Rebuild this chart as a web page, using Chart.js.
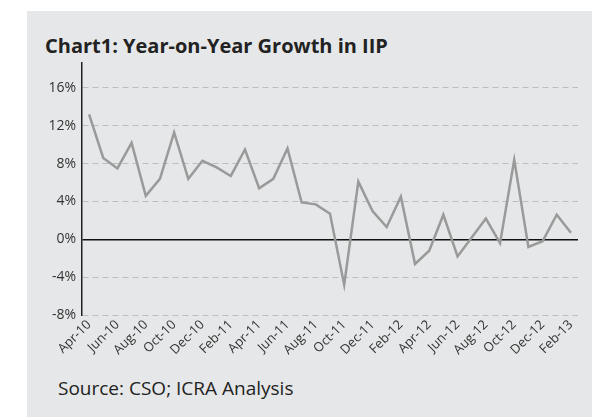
<!DOCTYPE html>
<html>
<head>
<meta charset="utf-8">
<script src="https://cdn.jsdelivr.net/npm/chart.js@4"></script>
<style>
  html, body { margin: 0; padding: 0; background: #fff; }
  #panel {
    position: absolute; left: 27px; top: 11px; width: 565px; height: 406px;
    background: #e6e7e8; font-family: "Open Sans", sans-serif; color: #222;
  }
  #title {
    position: absolute; left: 18px; top: 21px; font-size: 20px; font-weight: 700;
    white-space: nowrap;
  }
  #source {
    position: absolute; left: 31px; top: 364px; font-size: 19px; white-space: nowrap;
  }
  #wrap { position: absolute; left: 0; top: 37px; width: 565px; height: 312px; }
</style>
</head>
<body>
<div id="panel">
  <div id="title">Chart1: Year-on-Year Growth in IIP</div>
  <div id="wrap"><canvas id="iipChart"></canvas></div>
  <div id="source">Source: CSO; ICRA Analysis</div>
</div>
<script>
// Months from Apr-10 to Feb-13
const months = [
  'Apr-10', 'May-10', 'Jun-10', 'Jul-10', 'Aug-10', 'Sep-10', 'Oct-10', 'Nov-10', 'Dec-10',
  'Jan-11', 'Feb-11', 'Mar-11', 'Apr-11', 'May-11', 'Jun-11', 'Jul-11', 'Aug-11', 'Sep-11',
  'Oct-11', 'Nov-11', 'Dec-11', 'Jan-12', 'Feb-12', 'Mar-12', 'Apr-12', 'May-12', 'Jun-12',
  'Jul-12', 'Aug-12', 'Sep-12', 'Oct-12', 'Nov-12', 'Dec-12', 'Jan-13', 'Feb-13'
];

// IIP growth, % year-on-year
const iipGrowth = [
  13.2, 8.6, 7.5, 10.2, 4.6, 6.4, 11.3, 6.4, 8.3,
  7.6, 6.7, 9.5, 5.4, 6.4, 9.6, 3.9, 3.7, 2.7,
  -4.8, 6.1, 3.0, 1.3, 4.5, -2.6, -1.2, 2.6, -1.8,
  0.2, 2.2, -0.4, 8.4, -0.8, -0.2, 2.6, 0.7
];

const yTicks = [-8, -4, 0, 4, 8, 12, 16];

const ctx = document.getElementById('iipChart').getContext('2d');
new Chart(ctx, {
  type: 'line',
  data: {
    labels: months,
    datasets: [{
      label: 'IIP growth',
      data: iipGrowth,
      borderColor: '#9a9a9a',
      borderWidth: 2.5,
      pointRadius: 0,
      tension: 0,
      fill: false
    }]
  },
  options: {
    responsive: true,
    maintainAspectRatio: false,
    animation: false,
    layout: { padding: { top: 6, right: 14, left: 0, bottom: 0 } },
    plugins: {
      legend: { display: false },
      tooltip: { enabled: false }
    },
    scales: {
      x: {
        offset: true,
        grid: { display: false, drawTicks: false },
        border: { display: false },
        ticks: {
          autoSkip: false,
          maxRotation: 45,
          minRotation: 45,
          padding: 2,
          color: '#333',
          font: { family: 'Open Sans', size: 13 },
          callback: function (value, index) {
            return index % 2 === 0 ? months[index] : '';
          }
        }
      },
      y: {
        min: -8,
        max: 18.7,
        afterBuildTicks: function (scale) {
          scale.ticks = yTicks.map(v => ({ value: v }));
        },
        afterFit: function (scale) {
          scale.width = 55;
        },
        grid: {
          drawTicks: false,
          color: c => (c.tick && c.tick.value === 0 ? '#111' : '#bcbdbf'),
          lineWidth: c => (c.tick && c.tick.value === 0 ? 1.5 : 1)
        },
        border: {
          display: true,
          color: '#222',
          width: 1.5,
          dash: c => (c.tick && c.tick.value === 0 ? [] : [6, 4])
        },
        ticks: {
          padding: 6,
          color: '#333',
          font: { family: 'Open Sans', size: 14 },
          callback: v => v + '%'
        }
      }
    }
  }
});
</script>
</body>
</html>
